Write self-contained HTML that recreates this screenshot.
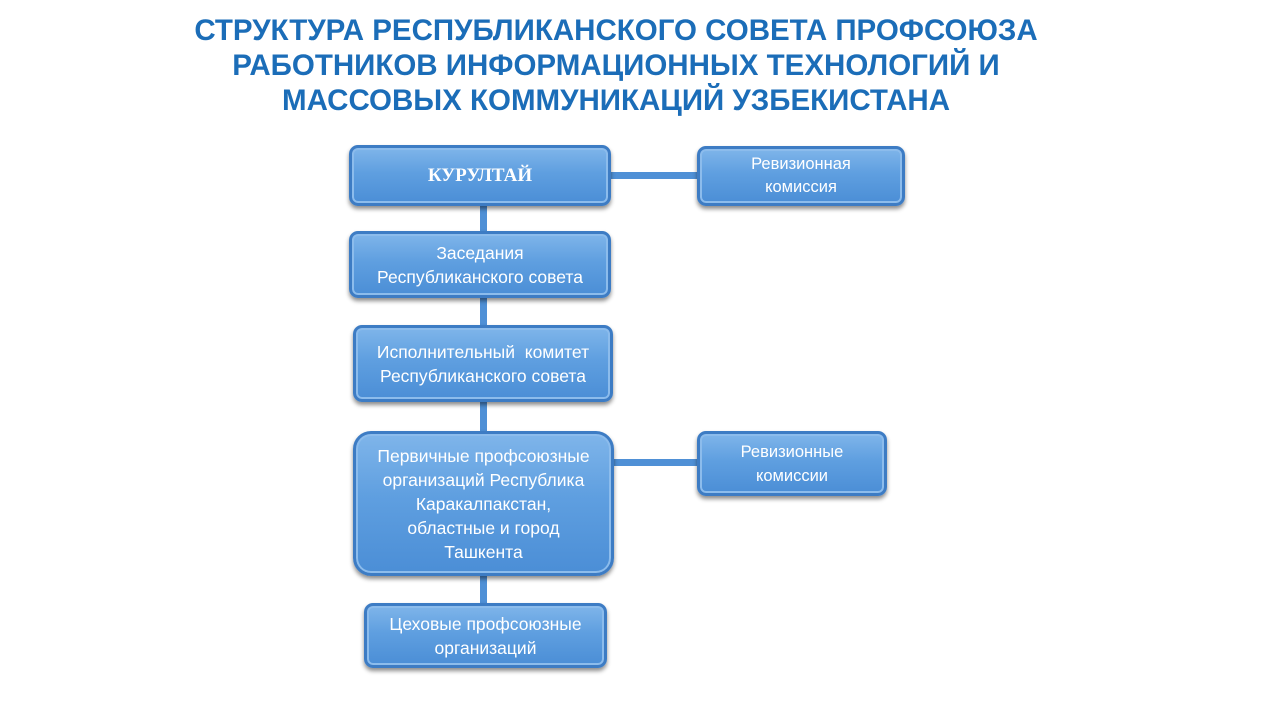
<!DOCTYPE html>
<html><head><meta charset="utf-8"><style>
body{margin:0;width:1280px;height:720px;background:#fff;position:relative;overflow:hidden;font-family:"Liberation Sans",sans-serif}
.t{position:absolute;left:0;width:1232px;text-align:center;color:#1b6db8;font-weight:bold;font-size:29.5px;line-height:35px;top:13px}
.b{position:absolute;box-sizing:border-box;border-radius:9px;background:linear-gradient(#7fb5ea,#5f9fe0 45%,#4b8ed6);border:3px solid #3d7cc4;box-shadow:0 3px 4px rgba(0,0,0,.45),inset 0 0 0 2px #8cbcec;color:#fff;display:flex;align-items:center;justify-content:center;text-align:center;font-size:17.5px;line-height:24px;font-family:"Liberation Sans","DejaVu Sans",sans-serif}
.l{position:absolute;background:#4f90d6}
</style></head><body>
<div class="t">СТРУКТУРА РЕСПУБЛИКАНСКОГО СОВЕТА ПРОФСОЮЗА<br>РАБОТНИКОВ ИНФОРМАЦИОННЫХ ТЕХНОЛОГИЙ И<br>МАССОВЫХ КОММУНИКАЦИЙ УЗБЕКИСТАНА</div>
<div class="l" style="left:480px;top:200px;width:7px;height:410px"></div>
<div class="l" style="left:608px;top:172px;width:92px;height:7px"></div>
<div class="l" style="left:610px;top:459px;width:90px;height:7px"></div>
<div class="b" style="left:349px;top:145px;width:262px;height:61px;font-family:'Liberation Serif',serif;font-weight:bold;font-size:19px">КУРУЛТАЙ</div>
<div class="b" style="left:697px;top:146px;width:208px;height:60px;font-size:16.5px;line-height:23px">Ревизионная<br>комиссия</div>
<div class="b" style="left:349px;top:231px;width:262px;height:67px">Заседания<br>Республиканского совета</div>
<div class="b" style="left:353px;top:325px;width:260px;height:77px">Исполнительный&nbsp; комитет<br>Республиканского совета</div>
<div class="b" style="left:353px;top:431px;width:261px;height:145px;border-radius:18px">Первичные профсоюзные<br>организаций Республика<br>Каракалпакстан,<br>областные и город<br>Ташкента</div>
<div class="b" style="left:697px;top:431px;width:190px;height:65px;font-size:16.5px">Ревизионные<br>комиссии</div>
<div class="b" style="left:364px;top:603px;width:243px;height:65px">Цеховые профсоюзные<br>организаций</div>
</body></html>
